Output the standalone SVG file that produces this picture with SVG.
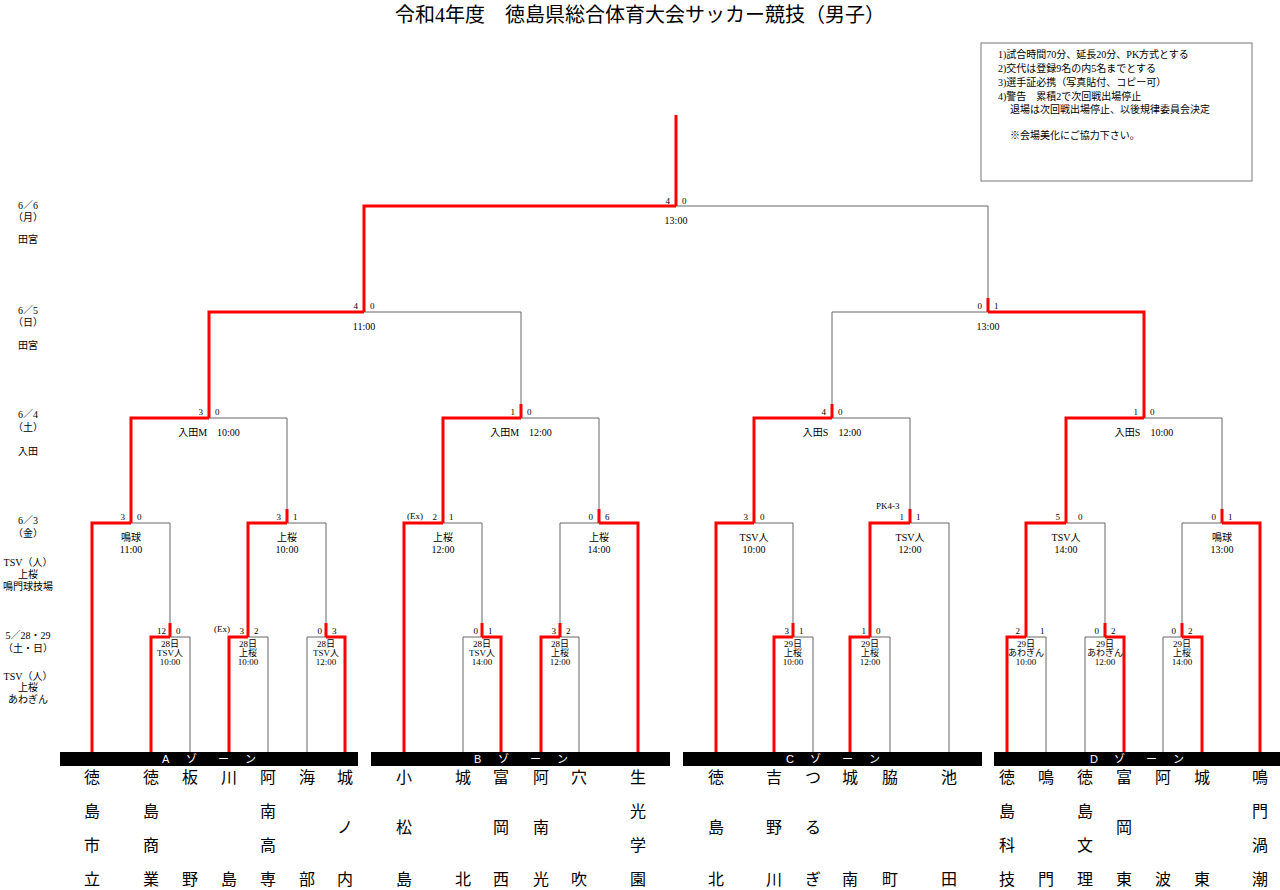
<svg xmlns="http://www.w3.org/2000/svg" width="1280" height="890" viewBox="0 0 1280 890">
<style>
text{font-family:"Liberation Serif","Noto Sans CJK JP",serif;fill:#000}
.g{fill:none;stroke:#666;stroke-width:1}
.r{fill:none;stroke:#f00;stroke-width:3}
.s{font-size:9px}
.t{font-size:9px;text-anchor:middle}
.m{font-size:10px;text-anchor:middle}
.n{font-size:16px;text-anchor:middle}
.l{font-size:10px;text-anchor:middle}
.z{font-size:11px;fill:#fff;font-family:"Liberation Sans","Noto Sans CJK JP",sans-serif}
.e{font-size:10px}
</style>
<rect width="1280" height="890" fill="#fff"/>
<text x="640" y="22" font-size="20" text-anchor="middle">令和4年度　徳島県総合体育大会サッカー競技（男子）</text>
<g id="notes">
<rect x="981" y="43" width="271" height="138" fill="#fff" stroke="#777"/>
<text class="e" x="998" y="58">1)試合時間70分、延長20分、PK方式とする</text>
<text class="e" x="998" y="72">2)交代は登録9名の内5名までとする</text>
<text class="e" x="998" y="86">3)選手証必携（写真貼付、コピー可）</text>
<text class="e" x="998" y="100">4)警告　累積2で次回戦出場停止</text>
<text class="e" x="1010" y="113">退場は次回戦出場停止、以後規律委員会決定</text>
<text class="e" x="1010" y="139">※会場美化にご協力下さい。</text>
</g>
<g id="dates">
<text class="l" x="28" y="209">6／6</text><text class="l" x="28" y="221">（月）</text><text class="l" x="28" y="243">田宮</text>
<text class="l" x="28" y="314">6／5</text><text class="l" x="28" y="326">（日）</text><text class="l" x="28" y="349">田宮</text>
<text class="l" x="28" y="418">6／4</text><text class="l" x="28" y="431">（土）</text><text class="l" x="28" y="455">入田</text>
<text class="l" x="28" y="524">6／3</text><text class="l" x="28" y="537">（金）</text>
<text class="l" x="28" y="566">TSV（人）</text><text class="l" x="28" y="578">上桜</text><text class="l" x="28" y="590">鳴門球技場</text>
<text class="l" x="28" y="639">5／28・29</text><text class="l" x="28" y="652">（土・日）</text>
<text class="l" x="28" y="680">TSV（人）</text><text class="l" x="28" y="691">上桜</text><text class="l" x="28" y="703">あわぎん</text>
</g>
<g id="connectors">
<path class="g" d="M151 752V637H190V752M229 752V637H268V752M307 752V637H345V752M92 752V523H170V637M248 637V523H326V637M131 523V418H287V523
M463 752V637H501V752M541 752V637H579V752M404 752V523H482V637M560 637V523H638V752M443 523V418H599V523M209 418V312H521V418
M774 752V637H813V752M850 752V637H890V752M716 752V523H793V637M870 637V523H949V752M754 523V418H910V523
M1007 752V637H1046V752M1085 752V637H1124V752M1163 752V637H1202V752M1026 637V523H1105V637M1182 637V523H1260V752M1066 523V418H1222V523M832 418V312H1144V418M364 312V206H988V312"/>
<path class="r" d="M151 752V637H170M170 623V637M229 752V637H248M248 623V637M345 752V637H326M326 623V637
M92 752V523H131M131 509V523M248 637V523H287M287 509V523M131 523V418H209M209 404V418
M501 752V637H482M482 623V637M541 752V637H560M560 623V637M404 752V523H443M443 509V523M638 752V523H599M599 509V523M443 523V418H521M521 404V418
M209 418V312H364M364 298V312
M774 752V637H793M793 623V637M850 752V637H870M870 623V637M716 752V523H754M754 509V523M870 637V523H910M910 509V523M754 523V418H832M832 404V418
M1007 752V637H1026M1026 623V637M1124 752V637H1105M1105 623V637M1202 752V637H1182M1182 623V637M1026 637V523H1066M1066 509V523M1260 752V523H1222M1222 509V523M1066 523V418H1144M1144 404V418
M1144 418V312H988M988 298V312M364 312V206H676M676 115V206"/>
</g>
<g id="scores">
<text class="s" x="166" y="634" text-anchor="end">12</text><text class="s" x="176" y="634">0</text>
<text class="s" x="244" y="634" text-anchor="end">3</text><text class="s" x="254" y="634">2</text><text class="s" x="214" y="632" font-size="7">(Ex)</text>
<text class="s" x="322" y="634" text-anchor="end">0</text><text class="s" x="332" y="634">3</text>
<text class="s" x="125" y="520" text-anchor="end">3</text><text class="s" x="137" y="520">0</text>
<text class="s" x="281" y="520" text-anchor="end">3</text><text class="s" x="293" y="520">1</text>
<text class="s" x="203" y="415" text-anchor="end">3</text><text class="s" x="215" y="415">0</text>
<text class="s" x="478" y="634" text-anchor="end">0</text><text class="s" x="488" y="634">1</text>
<text class="s" x="556" y="634" text-anchor="end">3</text><text class="s" x="566" y="634">2</text>
<text class="s" x="437" y="520" text-anchor="end">2</text><text class="s" x="449" y="520">1</text><text class="s" x="407" y="519" font-size="7">(Ex)</text>
<text class="s" x="593" y="520" text-anchor="end">0</text><text class="s" x="605" y="520">6</text>
<text class="s" x="515" y="415" text-anchor="end">1</text><text class="s" x="527" y="415">0</text>
<text class="s" x="358" y="309" text-anchor="end">4</text><text class="s" x="370" y="309">0</text>
<text class="s" x="789" y="634" text-anchor="end">3</text><text class="s" x="799" y="634">1</text>
<text class="s" x="866" y="634" text-anchor="end">1</text><text class="s" x="876" y="634">0</text>
<text class="s" x="748" y="520" text-anchor="end">3</text><text class="s" x="760" y="520">0</text>
<text class="s" x="904" y="520" text-anchor="end">1</text><text class="s" x="916" y="520">1</text><text class="s" x="876" y="509" font-size="8">PK4-3</text>
<text class="s" x="826" y="415" text-anchor="end">4</text><text class="s" x="838" y="415">0</text>
<text class="s" x="1020" y="634" text-anchor="end">2</text><text class="s" x="1040" y="634">1</text>
<text class="s" x="1099" y="634" text-anchor="end">0</text><text class="s" x="1111" y="634">2</text>
<text class="s" x="1176" y="634" text-anchor="end">0</text><text class="s" x="1188" y="634">2</text>
<text class="s" x="1060" y="520" text-anchor="end">5</text><text class="s" x="1078" y="520">0</text>
<text class="s" x="1216" y="520" text-anchor="end">0</text><text class="s" x="1228" y="520">1</text>
<text class="s" x="1138" y="415" text-anchor="end">1</text><text class="s" x="1150" y="415">0</text>
<text class="s" x="982" y="309" text-anchor="end">0</text><text class="s" x="994" y="309">1</text>
<text class="s" x="670" y="204" text-anchor="end">4</text><text class="s" x="682" y="204">0</text>
</g>
<g id="times">
<g class="t"><text x="170" y="647">28日</text><text x="170" y="656">TSV人</text><text x="170" y="665">10:00</text></g>
<g class="t"><text x="248" y="647">28日</text><text x="248" y="656">上桜</text><text x="248" y="665">10:00</text></g>
<g class="t"><text x="326" y="647">28日</text><text x="326" y="656">TSV人</text><text x="326" y="665">12:00</text></g>
<g class="t"><text x="482" y="647">28日</text><text x="482" y="656">TSV人</text><text x="482" y="665">14:00</text></g>
<g class="t"><text x="560" y="647">28日</text><text x="560" y="656">上桜</text><text x="560" y="665">12:00</text></g>
<g class="t"><text x="793" y="647">29日</text><text x="793" y="656">上桜</text><text x="793" y="665">10:00</text></g>
<g class="t"><text x="870" y="647">29日</text><text x="870" y="656">上桜</text><text x="870" y="665">12:00</text></g>
<g class="t"><text x="1026" y="647">29日</text><text x="1026" y="656">あわぎん</text><text x="1026" y="665">10:00</text></g>
<g class="t"><text x="1105" y="647">29日</text><text x="1105" y="656">あわぎん</text><text x="1105" y="665">12:00</text></g>
<g class="t"><text x="1182" y="647">29日</text><text x="1182" y="656">上桜</text><text x="1182" y="665">14:00</text></g>
<g class="m"><text x="131" y="541">鳴球</text><text x="131" y="553">11:00</text>
<text x="287" y="541">上桜</text><text x="287" y="553">10:00</text>
<text x="443" y="541">上桜</text><text x="443" y="553">12:00</text>
<text x="599" y="541">上桜</text><text x="599" y="553">14:00</text>
<text x="754" y="541">TSV人</text><text x="754" y="553">10:00</text>
<text x="910" y="541">TSV人</text><text x="910" y="553">12:00</text>
<text x="1066" y="541">TSV人</text><text x="1066" y="553">14:00</text>
<text x="1222" y="541">鳴球</text><text x="1222" y="553">13:00</text>
<text x="209" y="436">入田M　10:00</text><text x="521" y="436">入田M　12:00</text>
<text x="832" y="436">入田S　12:00</text><text x="1144" y="436">入田S　10:00</text>
<text x="364" y="330">11:00</text><text x="988" y="330">13:00</text><text x="676" y="224">13:00</text></g>
</g>
<g id="zones">
<rect x="60" y="752" width="298" height="14" fill="#000"/>
<rect x="371" y="752" width="299" height="14" fill="#000"/>
<rect x="683" y="752" width="299" height="14" fill="#000"/>
<rect x="994" y="752" width="286" height="14" fill="#000"/>
<text class="z" x="162" y="763">A</text><text class="z" x="186" y="763">ゾ</text><text class="z" x="218" y="763">ー</text><text class="z" x="245" y="763">ン</text>
<text class="z" x="474" y="763">B</text><text class="z" x="498" y="763">ゾ</text><text class="z" x="530" y="763">ー</text><text class="z" x="557" y="763">ン</text>
<text class="z" x="786" y="763">C</text><text class="z" x="810" y="763">ゾ</text><text class="z" x="842" y="763">ー</text><text class="z" x="869" y="763">ン</text>
<text class="z" x="1090" y="763">D</text><text class="z" x="1114" y="763">ゾ</text><text class="z" x="1146" y="763">ー</text><text class="z" x="1173" y="763">ン</text>
</g>
<g id="teams" class="n">
<g id="t1"><text x="92" y="783">徳</text><text x="92" y="817">島</text><text x="92" y="851">市</text><text x="92" y="885">立</text></g>
<g id="t2"><text x="151" y="783">徳</text><text x="151" y="817">島</text><text x="151" y="851">商</text><text x="151" y="885">業</text></g>
<g id="t3"><text x="190" y="783">板</text><text x="190" y="885">野</text></g>
<g id="t4"><text x="229" y="783">川</text><text x="229" y="885">島</text></g>
<g id="t5"><text x="268" y="783">阿</text><text x="268" y="817">南</text><text x="268" y="851">高</text><text x="268" y="885">専</text></g>
<g id="t6"><text x="307" y="783">海</text><text x="307" y="885">部</text></g>
<g id="t7"><text x="345" y="783">城</text><text x="345" y="833">ノ</text><text x="345" y="885">内</text></g>
<g id="t8"><text x="404" y="783">小</text><text x="404" y="833">松</text><text x="404" y="885">島</text></g>
<g id="t9"><text x="463" y="783">城</text><text x="463" y="885">北</text></g>
<g id="t10"><text x="501" y="783">富</text><text x="501" y="833">岡</text><text x="501" y="885">西</text></g>
<g id="t11"><text x="541" y="783">阿</text><text x="541" y="833">南</text><text x="541" y="885">光</text></g>
<g id="t12"><text x="579" y="783">穴</text><text x="579" y="885">吹</text></g>
<g id="t13"><text x="638" y="783">生</text><text x="638" y="817">光</text><text x="638" y="851">学</text><text x="638" y="885">園</text></g>
<g id="t14"><text x="716" y="783">徳</text><text x="716" y="833">島</text><text x="716" y="885">北</text></g>
<g id="t15"><text x="774" y="783">吉</text><text x="774" y="833">野</text><text x="774" y="885">川</text></g>
<g id="t16"><text x="813" y="783">つ</text><text x="813" y="833">る</text><text x="813" y="885">ぎ</text></g>
<g id="t17"><text x="850" y="783">城</text><text x="850" y="885">南</text></g>
<g id="t18"><text x="890" y="783">脇</text><text x="890" y="885">町</text></g>
<g id="t19"><text x="949" y="783">池</text><text x="949" y="885">田</text></g>
<g id="t20"><text x="1007" y="783">徳</text><text x="1007" y="817">島</text><text x="1007" y="851">科</text><text x="1007" y="885">技</text></g>
<g id="t21"><text x="1046" y="783">鳴</text><text x="1046" y="885">門</text></g>
<g id="t22"><text x="1085" y="783">徳</text><text x="1085" y="817">島</text><text x="1085" y="851">文</text><text x="1085" y="885">理</text></g>
<g id="t23"><text x="1124" y="783">富</text><text x="1124" y="833">岡</text><text x="1124" y="885">東</text></g>
<g id="t24"><text x="1163" y="783">阿</text><text x="1163" y="885">波</text></g>
<g id="t25"><text x="1202" y="783">城</text><text x="1202" y="885">東</text></g>
<g id="t26"><text x="1260" y="783">鳴</text><text x="1260" y="817">門</text><text x="1260" y="851">渦</text><text x="1260" y="885">潮</text></g>
</g>
</svg>
